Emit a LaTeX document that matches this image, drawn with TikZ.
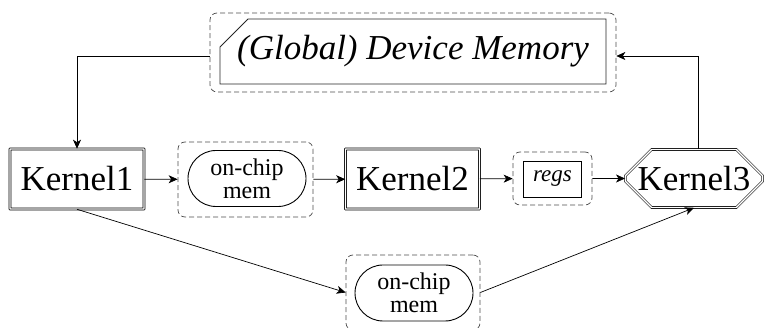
\documentclass[tikz,border=0pt]{standalone}
\usepackage{fontspec}
\setmainfont{Liberation Serif}
\usetikzlibrary{shapes.misc,arrows.meta}
\begin{document}
\begin{tikzpicture}[x=1pt,y=-1pt,
  kernel/.style={draw, double, double distance=1.4pt, line width=0.6pt, rounded corners=0.3pt,
    minimum width=134pt, minimum height=60pt, inner sep=0pt,
    font=\fontsize{35}{40}\selectfont},
  group/.style={draw=black!70, dashed, dash pattern=on 5pt off 3pt, rounded corners=7pt,
    line width=0.7pt, inner sep=0pt},
  memnode/.style={draw, rounded rectangle, line width=0.9pt, minimum width=118pt,
    minimum height=56pt, inner sep=0pt, align=center,
    font=\fontsize{24}{23}\selectfont},
  arr/.style={-{Stealth[length=9pt,width=8pt,inset=2.5pt]}, line width=0.7pt}
]
\useasboundingbox (0,0) rectangle (766,328);

% global memory
\node[group, minimum width=406pt, minimum height=79pt] (gmo) at (413,52.5) {};
\node[draw=black!85, line width=0.9pt, chamfered rectangle, chamfered rectangle corners=north west,
  chamfered rectangle xsep=14pt, chamfered rectangle ysep=14pt,
  minimum width=386pt, minimum height=65pt, inner sep=0pt,
  font=\fontsize{35}{40}\selectfont\itshape] (gm) at (413,51.5) {(Global) Device Memory};

% kernels
\node[kernel] (k1) at (77,179) {Kernel1};
\node[kernel] (k2) at (412.5,179) {Kernel2};
\node[kernel, rounded corners=0pt, chamfered rectangle, chamfered rectangle xsep=14pt, chamfered rectangle ysep=14pt,
  minimum width=136pt, minimum height=58pt] (k3) at (694,178.5) {Kernel3};

% on-chip 1
\node[group, minimum width=135pt, minimum height=75pt] (oc1o) at (245.5,179.5) {};
\node[memnode] (oc1) at (247,178.5) {on-chip\\mem};

% regs
\node[group, minimum width=79pt, minimum height=53pt] (rgo) at (552.5,178.5) {};
\node[draw, line width=0.9pt, minimum width=58pt, minimum height=36pt, inner sep=0pt,
  font=\fontsize{23}{26}\selectfont\itshape] (rg) at (552.5,179) {regs};

% on-chip 2
\node[group, minimum width=134pt, minimum height=75pt] (oc2o) at (413,292.5) {};
\node[memnode] (oc2) at (414,293) {on-chip\\mem};

% connectors
\draw[arr] (k1) -- (oc1o);
\draw[arr] (oc1o) -- (k2);
\draw[arr] (k2) -- (rgo);
\draw[arr] (rgo) -- (k3);
\draw[arr] ([yshift=-4pt]gmo.west) -| (k1.north);
\draw[arr] ([xshift=4pt]k3.north) |- ([yshift=-3.5pt]gmo.east);
\draw[arr] (k1.south) -- (oc2o.west);
\draw[arr] (oc2o.east) -- (k3.south);
\end{tikzpicture}
\end{document}
